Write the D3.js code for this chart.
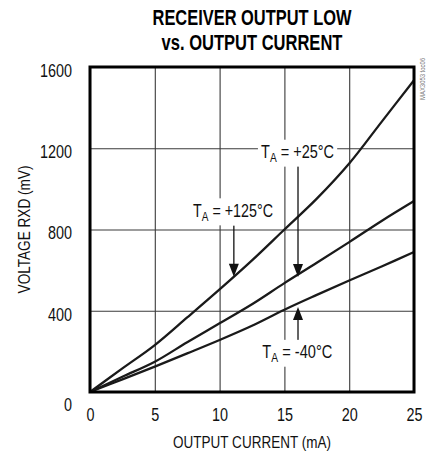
<!DOCTYPE html>
<html>
<head>
<meta charset="UTF-8">
<title>Receiver output low</title>
<script type="text/javascript" src="https://cdn.jsdelivr.net/npm/d3@7"></script>
<style type="text/css">
body{margin:0;background:#fff;}
text{font-family:"Liberation Sans",Arial,sans-serif;}
</style>
</head>
<body>
<script type="text/javascript">
// data (mA -> mV)
var current=[0,2.5,5,7.5,10,12.5,15,17.5,20,22.5,25];
var v125=[0,116,231,367,505,648,800,952,1125,1330,1535];
var v25=[0,75,149,245,338,432,536,636,738,842,940];
var vm40=[0,62,125,190,256,326,405,478,549,618,689];
var xTicks=[0,5,10,15,20,25];
var yTicks=[0,400,800,1200,1600];
var seriesNames=["+125°C","+25°C","-40°C"];

var width=437,height=454;
var pLeft=90,pRight=414,pTop=67,pBottom=392;
var squeeze=0.8;//窄字体的近似

var x=d3.scaleLinear().domain([0,25]).range([pLeft,pRight]);
var y=d3.scaleLinear().domain([0,1600]).range([pBottom,pTop]);

var svg=d3.select("body").append("svg")
	.attr("width",width)
	.attr("height",height);

//文字按目标宽度横向压缩
function fitText(parent,pos,rot,target,size,build){
	var g=parent.append("g");
	var t=g.append("text").attr("font-size",size+"px").attr("fill","#111");
	build(t);
	var k=target/t.node().getComputedTextLength();
	g.attr("transform","translate("+pos[0]+","+pos[1]+")"+(rot?" rotate("+rot+")":"")+" scale("+k+",1)");
	return g;
}

//标题
fitText(svg,[252,25],0,199,21.5,function(t){
	t.attr("text-anchor","middle").attr("font-weight","bold").attr("fill","#000").text("RECEIVER OUTPUT LOW");
});
fitText(svg,[252,49.5],0,181,21.5,function(t){
	t.attr("text-anchor","middle").attr("font-weight","bold").attr("fill","#000").text("vs. OUTPUT CURRENT");
});

//网格 + 刻度
var gx=svg.append("g")
	.attr("transform","translate(0,"+pBottom+")")
	.call(d3.axisBottom(x).tickValues(xTicks).tickSize(-(pBottom-pTop)).tickPadding(16));
var gy=svg.append("g")
	.attr("transform","translate("+pLeft+",0)")
	.call(d3.axisLeft(y).tickValues(yTicks).tickSize(-(pRight-pLeft)).tickPadding(18).tickFormat(d3.format("d")));
[gx,gy].forEach(function(g){
	g.select(".domain").remove();
	g.selectAll("line").attr("stroke","#3a3a3a").attr("stroke-width",1.1);
	g.selectAll("text").attr("font-size","18px").attr("fill","#111")
	 .style("font-family","'Liberation Sans',Arial,sans-serif")
	 .attr("transform","scale("+squeeze+",1)");
});
gy.selectAll("text")
  .attr("x",-18/squeeze)
  .attr("dy",function(d){return d==0?"1.02em":"0.52em";});

//曲线
var line=d3.line()
	.x(function(d){return x(d[0]);})
	.y(function(d){return y(d[1]);})
	.curve(d3.curveCatmullRom.alpha(0.5));
[v125,v25,vm40].forEach(function(vals,i){
	svg.append("path")
	   .datum(d3.zip(current,vals))
	   .attr("fill","none")
	   .attr("stroke","#1a1a1a")
	   .attr("stroke-width",2.3)
	   .attr("d",line)
	   .attr("class","s"+i);
});

//边框
svg.append("rect")
	.attr("x",pLeft).attr("y",pTop)
	.attr("width",pRight-pLeft).attr("height",pBottom-pTop)
	.attr("fill","none").attr("stroke","#000").attr("stroke-width",3);

//标注: 箭头x(mA), 箭尾(mV), 文字左边(mA), 文字基线(mV)
function valueAt(vals,c){
	var i=d3.bisectRight(current,c)-1;
	if(i>=current.length-1) return vals[vals.length-1];
	var t=(c-current[i])/(current[i+1]-current[i]);
	return vals[i]+t*(vals[i+1]-vals[i]);
}
var notes=[
	{vals:v125,name:seriesNames[0],ax:11.1,tail:820,lx:7.95,ly:861,w:80,tipOff:0},
	{vals:v25,name:seriesNames[1],ax:16.05,tail:1130,lx:13.2,ly:1150,w:73,tipOff:2.5},
	{vals:vm40,name:seriesNames[2],ax:16.05,tail:246,lx:13.3,ly:165,w:70,tipOff:3.5}
];
notes.forEach(function(n){
	var ax=x(n.ax);
	var tip=y(valueAt(n.vals,n.ax))+n.tipOff;
	var tail=y(n.tail);
	var dir=tip>tail?1:-1;
	svg.append("line")
		.attr("x1",ax).attr("x2",ax)
		.attr("y1",tail).attr("y2",tip-dir*10)
		.attr("stroke","#111").attr("stroke-width",1.3);
	svg.append("path")
		.attr("d","M"+(ax-5)+","+(tip-dir*13)+"L"+(ax+5)+","+(tip-dir*13)+"L"+ax+","+tip+"Z")
		.attr("fill","#111");
	var g=fitText(svg,[x(n.lx),y(n.ly)],0,n.w,18.5,function(t){
		t.append("tspan").text("T");
		t.append("tspan").attr("font-size","13px").attr("dy",4).text("A");
		t.append("tspan").attr("dy",-4).text(" = "+n.name);
	});
	var b=g.select("text").node().getBBox();
	g.insert("rect","text")
		.attr("x",b.x-4).attr("y",b.y-2)
		.attr("width",b.width+8).attr("height",b.height+4)
		.attr("fill","#fff");
});

//轴标题
fitText(svg,[252,448],0,158,17,function(t){
	t.attr("text-anchor","middle").text("OUTPUT CURRENT (mA)");
});
fitText(svg,[30,(pTop+pBottom)/2],-90,128,17,function(t){
	t.attr("text-anchor","middle").text("VOLTAGE RXD (mV)");
});
fitText(svg,[425,58],-90,42,8,function(t){
	t.attr("text-anchor","end").attr("fill","#777").text("MAX3053 toc06");
});
</script>
</body>
</html>
